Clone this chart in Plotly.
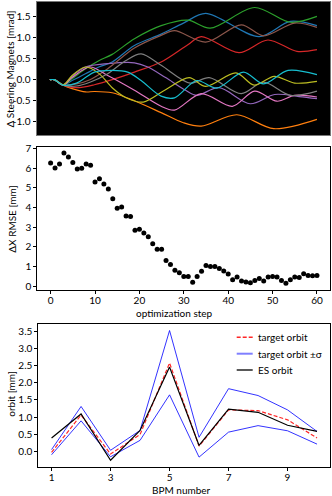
import plotly.graph_objects as go

# ---- top panel: steering magnet changes (key points)
blue_steps = [0, 1, 3, 5, 8, 11, 14, 19, 25, 30, 35, 47, 54, 60]
blue_vals = [0, 0, -0.12, -0.02, 0.14, 0.30, 0.42, 0.81, 1.08, 1.34, 1.57, 1.02, 1.38, 1.28]
orange_steps = [0, 1, 3, 5, 8, 10, 14, 19, 25, 30, 34, 42, 50.3, 60]
orange_vals = [0, 0, -0.13, -0.21, -0.29, -0.28, -0.31, -0.50, -0.78, -1.02, -1.10, -0.83, -1.16, -0.94]
green_steps = [0, 1, 3, 5, 8, 11, 14, 19, 25, 31, 36, 46, 54, 60]
green_vals = [0, 0, -0.12, 0.02, 0.26, 0.45, 0.60, 0.97, 1.28, 1.41, 1.22, 1.71, 1.36, 1.50]
red_steps = [0, 1, 3, 6, 10, 14, 19, 25, 31, 34, 42.5, 49, 55.5, 60]
red_vals = [0, 0, -0.13, -0.19, -0.12, 0.0, 0.18, 0.42, 0.83, 1.02, 0.64, 0.94, 0.67, 0.71]
purple_steps = [0, 1, 3, 5, 8, 13, 19, 22, 26, 30.5, 33, 38, 45, 50.5, 56, 60]
purple_vals = [0, 0, -0.13, 0.08, 0.30, 0.38, 0.40, 0.30, 0.05, -0.25, -0.37, -0.19, -0.57, -0.35, -0.40, -0.45]
brown_steps = [0, 1, 3, 6, 9, 13, 19, 25, 28, 35, 43, 48, 55, 60]
brown_vals = [0, 0, -0.12, -0.10, 0.0, 0.26, 0.75, 1.05, 1.16, 0.89, 1.30, 1.04, 1.34, 1.24]
pink_steps = [0, 1, 3, 5, 9, 13, 19, 25, 28, 34, 41, 46, 51, 55, 60]
pink_vals = [0, 0, -0.13, 0.05, 0.30, 0.10, -0.25, -0.63, -0.72, -0.33, -0.63, -0.27, -0.51, -0.37, -0.41]
gray_steps = [0, 1, 3, 6, 9, 13, 17, 20.5, 25, 31.5, 35.8, 43, 48, 54, 60]
gray_vals = [0, 0, -0.13, -0.15, -0.06, 0.14, 0.45, 0.61, 0.34, -0.08, 0.05, -0.33, -0.06, -0.37, -0.27]
olive_steps = [0, 1, 3, 5, 8, 11, 14, 17, 21, 25.8, 31.3, 35, 41.8, 45.9, 50.4, 55, 60]
olive_vals = [0, 0, -0.12, 0.10, 0.30, 0.15, -0.19, -0.42, -0.53, -0.25, 0.05, -0.16, 0.16, -0.13, 0.08, -0.08, -0.04]
cyan_steps = [0, 1, 3, 6, 8, 10, 14, 17.5, 20.5, 25, 28, 33, 37.5, 43.5, 48, 53.5, 60]
cyan_vals = [0, 0, -0.13, -0.08, 0.05, 0.18, 0.22, 0.18, -0.02, -0.39, -0.43, -0.02, -0.20, 0.18, -0.10, 0.22, 0.12]

magnets = [
    (blue_steps, blue_vals, "#1f77b4"),
    (orange_steps, orange_vals, "#ff7f0e"),
    (green_steps, green_vals, "#2ca02c"),
    (red_steps, red_vals, "#d62728"),
    (purple_steps, purple_vals, "#9467bd"),
    (brown_steps, brown_vals, "#8c564b"),
    (pink_steps, pink_vals, "#e377c2"),
    (gray_steps, gray_vals, "#7f7f7f"),
    (olive_steps, olive_vals, "#bcbd22"),
    (cyan_steps, cyan_vals, "#17becf"),
]

# ---- middle panel: RMSE per optimization step
rmse_steps = list(range(61))
rmse_vals = [6.27, 6.01, 6.22, 6.78, 6.57, 6.29, 5.96, 6.00, 6.22, 6.15,
             5.30, 5.47, 5.20, 4.94, 4.45, 3.96, 4.03, 3.57, 3.55, 2.84,
             2.89, 2.70, 2.51, 2.16, 1.87, 1.87, 1.30, 1.10, 0.80, 0.68,
             0.49, 0.49, 0.20, 0.49, 0.76, 1.05, 1.00, 1.00, 0.89, 0.77,
             0.61, 0.32, 0.46, 0.26, 0.21, 0.17, 0.29, 0.38, 0.26, 0.46,
             0.49, 0.46, 0.29, 0.15, 0.32, 0.46, 0.44, 0.63, 0.54, 0.53, 0.54]

# ---- bottom panel: orbits at each BPM
bpm = [1, 2, 3, 4, 5, 6, 7, 8, 9, 10]
target_orbit = [-0.03, 1.06, -0.08, 0.49, 2.58, 0.15, 1.21, 1.19, 0.92, 0.39]
target_upper = [0.05, 1.31, 0.03, 0.61, 3.53, 0.41, 1.83, 1.63, 1.21, 0.58]
target_lower = [-0.10, 0.89, -0.16, 0.32, 1.65, -0.17, 0.56, 0.75, 0.60, 0.21]
es_orbit = [0.39, 1.09, -0.26, 0.61, 2.46, 0.17, 1.23, 1.14, 0.76, 0.58]

FONT = "Lato"
W, H = 332.0, 496.0
RED = "rgba(255,0,0,0.85)"
BLUE = "rgba(0,0,255,0.8)"

fig = go.Figure()

for steps, vals, color in magnets:
    fig.add_trace(go.Scatter(x=steps, y=vals, mode="lines",
                             line=dict(color=color, width=1.2, shape="spline", smoothing=0.9),
                             xaxis="x", yaxis="y"))

fig.add_trace(go.Scatter(x=rmse_steps, y=rmse_vals, mode="markers", marker=dict(color="black", size=5),
                         xaxis="x2", yaxis="y2"))

fig.add_trace(go.Scatter(x=bpm, y=target_orbit, mode="lines", line=dict(color=RED, width=1.2, dash="4px,2px"),
                         xaxis="x3", yaxis="y3"))
fig.add_trace(go.Scatter(x=bpm, y=target_upper, mode="lines", line=dict(color=BLUE, width=1), xaxis="x3", yaxis="y3"))
fig.add_trace(go.Scatter(x=bpm, y=target_lower, mode="lines", line=dict(color=BLUE, width=1), xaxis="x3", yaxis="y3"))
fig.add_trace(go.Scatter(x=bpm, y=es_orbit, mode="lines", line=dict(color="black", width=1.2), xaxis="x3", yaxis="y3"))

ax = dict(showline=True, mirror=True, linecolor="black", linewidth=1, ticks="outside", ticklen=3,
          tickcolor="black", showgrid=False, zeroline=False, automargin=False,
          tickfont=dict(family=FONT, size=10, color="black"))


def px(x):
    return x / W


def py(y):
    return 1 - y / H


annotations = [
    dict(text="\u0394 Steering Magnets [mrad]", x=px(9.5), y=py(69), textangle=-90),
    dict(text="\u0394X RMSE [mm]", x=px(11.7), y=py(219), textangle=-90),
    dict(text="orbit [mm]", x=px(10.7), y=py(394), textangle=-90),
    dict(text="optimization step", x=px(174.6), y=py(313.3)),
    dict(text="BPM number", x=px(181.5), y=py(490)),
]
for a in annotations:
    a.update(xref="paper", yref="paper", showarrow=False, xanchor="center", yanchor="middle",
             font=dict(family=FONT, size=10, color="black"))

# legend drawn by hand to match the reference's compact layout
legend_items = [("target orbit", RED, "4px,2px", 1.5, 337.3),
                ("target orbit \u00b1\u03c3", "rgba(0,0,255,0.5)", "solid", 2, 353.7),
                ("ES orbit", "rgba(0,0,0,0.65)", "solid", 2, 370.0)]
shapes = [dict(type="rect", xref="x domain", yref="y domain", x0=0, x1=1, y0=0, y1=1,
               fillcolor="black", line=dict(width=0), layer="below")]
for label, color, dash, lw, yy in legend_items:
    shapes.append(dict(type="line", xref="paper", yref="paper", x0=px(236.7), x1=px(252.7), y0=py(yy), y1=py(yy),
                       line=dict(color=color, width=lw, dash=dash)))
    annotations.append(dict(text=label, xref="paper", yref="paper", x=px(256), y=py(yy), xanchor="left",
                            yanchor="middle", showarrow=False, font=dict(family=FONT, size=10, color="black")))

fig.update_layout(
    width=332, height=496,
    margin=dict(l=0, r=0, t=0, b=0),
    paper_bgcolor="white", plot_bgcolor="white",
    showlegend=False,
    font=dict(family=FONT, size=10, color="black"),
    xaxis=dict(ax, domain=[px(36.5), px(330.3)], range=[-3, 63], showticklabels=False, ticks="",
               linecolor="#777", anchor="y"),
    yaxis=dict(ax, domain=[py(135), py(2)], range=[-1.31, 1.84], tickvals=[-1, -0.5, 0, 0.5, 1, 1.5],
               ticktext=["-1.0", "-0.5", "0.0", "0.5", "1.0", "1.5"], linecolor="#777", anchor="x"),
    xaxis2=dict(ax, domain=[px(37.3), px(330.3)], range=[-3, 63], tickvals=[0, 10, 20, 30, 40, 50, 60],
                ticklabelstandoff=-2, anchor="y2"),
    yaxis2=dict(ax, domain=[py(290), py(146.7)], range=[-0.2, 7.1], tickvals=list(range(8)), anchor="x2"),
    xaxis3=dict(ax, domain=[px(38.3), px(330.3)], range=[0.55, 10.45], tickvals=[1, 3, 5, 7, 9],
                ticklabelstandoff=-2, anchor="y3"),
    yaxis3=dict(ax, domain=[py(466.7), py(324)], range=[-0.45, 3.72],
                tickvals=[0, 0.5, 1, 1.5, 2, 2.5, 3, 3.5], tickformat=".1f", anchor="x3"),
    annotations=annotations,
    shapes=shapes,
)

# drop the page's default body margin so the figure sits at the window's corner
fig.write_html("out.html", config={"displayModeBar": False},
               post_script="document.body.style.margin='0';document.body.style.overflow='hidden';")
